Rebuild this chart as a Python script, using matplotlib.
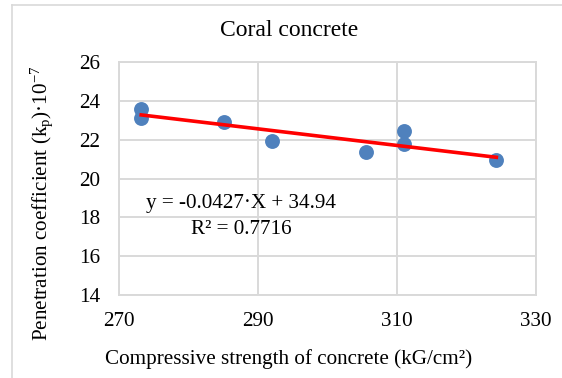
import matplotlib
matplotlib.use("Agg")
import matplotlib.pyplot as plt
from matplotlib.lines import Line2D
import numpy as np

strength = [273.2, 273.2, 285.1, 292.0, 305.6, 311.0, 311.0, 324.3]
kp = [23.58, 23.12, 22.91, 21.91, 21.36, 22.43, 21.78, 20.97]
slope, intercept, r2 = -0.0427, 34.94, 0.7716
xticks = [270, 290, 310, 330]
yticks = [14, 16, 18, 20, 22, 24, 26]

plt.rcParams['font.family'] = ['Liberation Serif', 'DejaVu Serif']
plt.rcParams['mathtext.fontset'] = 'custom'
plt.rcParams['mathtext.rm'] = 'Liberation Serif'
plt.rcParams['mathtext.it'] = 'Liberation Serif'

W, H = 562, 378
fig = plt.figure(figsize=(W/100, H/100), dpi=100)
ax = fig.add_axes([119/W, 1-295/H, (536-119)/W, (295-62)/H])

grid_c = '#d9d9d9'
ax.set_xlim(270, 330)
ax.set_ylim(14, 26)
ax.set_xticks(xticks)
ax.set_yticks(yticks)
ax.grid(True, color=grid_c, linewidth=1.4)
ax.set_axisbelow(True)
for s in ax.spines.values():
    s.set_color(grid_c)
    s.set_linewidth(1.4)
ax.tick_params(axis='y', length=0, labelsize=15.2, pad=13.5, colors='black')
ax.tick_params(axis='x', length=0, labelsize=15.2, pad=12, colors='black')

ax.scatter(strength, kp, s=115, color='#4F81BD', zorder=3, linewidths=0)
xs = np.array([min(strength), max(strength)])
ax.plot(xs, slope*xs + intercept, color='#FF0000', linewidth=2.6, zorder=4)

ax.text(287.6, 18.7, 'y = -0.0427·X + 34.94', ha='center', va='center', fontsize=15.2)
ax.text(287.6, 17.36, 'R² = 0.7716', ha='center', va='center', fontsize=15.2)

fig.text(289/W, 1-31/H, 'Coral concrete', ha='center', va='center', fontsize=17)
fig.text(288.5/W, 1-359/H, 'Compressive strength of concrete (kG/cm²)', ha='center', va='center', fontsize=15.2)
fig.text(42/W, 1-203/H, r'Penetration coefficient (k$_\mathregular{p}$)·10$^\mathregular{-7}$',
         ha='center', va='center', rotation=90, fontsize=15.2)

bc = '#d9d9d9'
fig.add_artist(Line2D([12/W, 12/W], [0, 1-5/H], color=bc, linewidth=1.2, transform=fig.transFigure))
fig.add_artist(Line2D([12/W, 1], [1-5/H, 1-5/H], color=bc, linewidth=1.2, transform=fig.transFigure))

fig.savefig('out.png', dpi=100)
